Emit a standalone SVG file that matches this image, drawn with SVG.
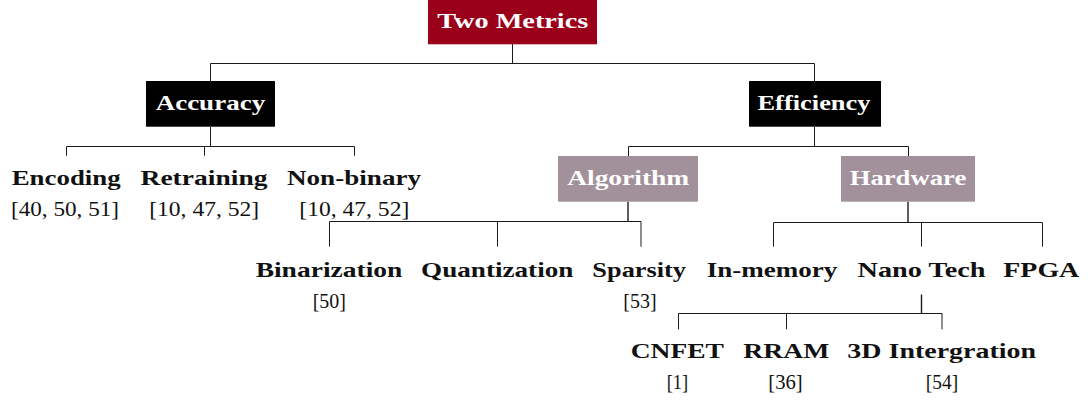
<svg xmlns="http://www.w3.org/2000/svg" width="1088" height="403" viewBox="0 0 1088 403">
  <style>
    .lbl { font-family: "Liberation Serif", "Times New Roman", serif; font-size: 22px; font-weight: bold; text-anchor: middle; fill: #111; }
    .ref { font-family: "Liberation Serif", "Times New Roman", serif; font-size: 22px; text-anchor: middle; fill: #111; }
    .boxlbl { fill: #ffffff; }
    .root { fill: #9A0019; }
    .dark { fill: #000000; }
    .soft { fill: #A2919B; }
    .edge { fill: none; stroke: #1a1a1a; stroke-width: 1; }
    .stem { fill: none; stroke: #1a1a1a; stroke-width: 1.4; }
  </style>

  <rect width="1088" height="403" fill="#ffffff"/>

  <!-- connectors of the tree -->
  <g id="connectors">
    <path class="edge" d="M512.5,44 V63.5 M210.5,81 V63.5 H814.5 V81"/>
    <path class="edge" d="M210.5,127 V146.5 M66.5,155.7 V146.5 H354.5 V155.7 M204.5,146.5 V155.7"/>
    <path class="edge" d="M814.5,127 V146.5 M628.5,156 V146.5 H908.5 V156"/>
    <path class="stem" d="M628,201.7 V221.5"/>
    <path class="edge" d="M329.5,246.7 V221.5 H641 V246.7 M497.5,221.5 V246.7"/>
    <path class="stem" d="M908,201.7 V222.5"/>
    <path class="edge" d="M773.5,246.7 V222.5 H1042.5 V246.7 M921.5,222.5 V246.7"/>
    <path class="stem" d="M921.5,294.5 V313.5"/>
    <path class="edge" d="M678.5,329.3 V313.5 H942 V329.3 M786.5,313.5 V329.3"/>
  </g>

  <!-- root -->
  <g id="two-metrics">
    <rect class="root" x="428" y="0" width="169" height="44.3"/>
    <text class="lbl boxlbl" x="512.8" y="27.7" textLength="151" lengthAdjust="spacingAndGlyphs">Two Metrics</text>
  </g>

  <!-- first level -->
  <g id="accuracy">
    <rect class="dark" x="146" y="81" width="129" height="45.7"/>
    <text class="lbl boxlbl" x="210.4" y="110" textLength="109.5" lengthAdjust="spacingAndGlyphs">Accuracy</text>
  </g>
  <g id="efficiency">
    <rect class="dark" x="749" y="81" width="132" height="45.7"/>
    <text class="lbl boxlbl" x="814" y="110" textLength="113" lengthAdjust="spacingAndGlyphs">Efficiency</text>
  </g>

  <!-- accuracy branch -->
  <g id="encoding">
    <text class="lbl" x="66.2" y="185" textLength="109" lengthAdjust="spacingAndGlyphs">Encoding</text>
    <text class="ref" x="65" y="216" textLength="108" lengthAdjust="spacingAndGlyphs">[40, 50, 51]</text>
  </g>
  <g id="retraining">
    <text class="lbl" x="204" y="185" textLength="127" lengthAdjust="spacingAndGlyphs">Retraining</text>
    <text class="ref" x="204.2" y="216" textLength="110" lengthAdjust="spacingAndGlyphs">[10, 47, 52]</text>
  </g>
  <g id="non-binary">
    <text class="lbl" x="354" y="185" textLength="134" lengthAdjust="spacingAndGlyphs">Non-binary</text>
    <text class="ref" x="354.3" y="216" textLength="110" lengthAdjust="spacingAndGlyphs">[10, 47, 52]</text>
  </g>

  <!-- efficiency branch -->
  <g id="algorithm">
    <rect class="soft" x="558" y="156" width="140" height="45.7"/>
    <text class="lbl boxlbl" x="628.2" y="185" textLength="122" lengthAdjust="spacingAndGlyphs">Algorithm</text>
  </g>
  <g id="hardware">
    <rect class="soft" x="841" y="156" width="134" height="45.7"/>
    <text class="lbl boxlbl" x="908" y="185" textLength="116.7" lengthAdjust="spacingAndGlyphs">Hardware</text>
  </g>

  <g id="binarization">
    <text class="lbl" x="329" y="276.5" textLength="146.7" lengthAdjust="spacingAndGlyphs">Binarization</text>
    <text class="ref" x="329.3" y="307.5" textLength="33.3" lengthAdjust="spacingAndGlyphs">[50]</text>
  </g>
  <g id="quantization">
    <text class="lbl" x="497.2" y="276.5" textLength="152.3" lengthAdjust="spacingAndGlyphs">Quantization</text>
  </g>
  <g id="sparsity">
    <text class="lbl" x="639.2" y="276.5" textLength="93.7" lengthAdjust="spacingAndGlyphs">Sparsity</text>
    <text class="ref" x="640" y="307.5" textLength="33.3" lengthAdjust="spacingAndGlyphs">[53]</text>
  </g>

  <g id="in-memory">
    <text class="lbl" x="772" y="276.5" textLength="130.7" lengthAdjust="spacingAndGlyphs">In-memory</text>
  </g>
  <g id="nano-tech">
    <text class="lbl" x="921.5" y="276.5" textLength="128" lengthAdjust="spacingAndGlyphs">Nano Tech</text>
  </g>
  <g id="fpga">
    <text class="lbl" x="1041.3" y="276.5" textLength="76" lengthAdjust="spacingAndGlyphs">FPGA</text>
  </g>

  <!-- nano tech branch -->
  <g id="cnfet">
    <text class="lbl" x="677.3" y="358.3" textLength="93.3" lengthAdjust="spacingAndGlyphs">CNFET</text>
    <text class="ref" x="677.5" y="389" textLength="21.6" lengthAdjust="spacingAndGlyphs">[1]</text>
  </g>
  <g id="rram">
    <text class="lbl" x="786.3" y="358.3" textLength="86" lengthAdjust="spacingAndGlyphs">RRAM</text>
    <text class="ref" x="785.5" y="389" textLength="34.4" lengthAdjust="spacingAndGlyphs">[36]</text>
  </g>
  <g id="3d-integration">
    <text class="lbl" x="941.7" y="358.3" textLength="188.7" lengthAdjust="spacingAndGlyphs">3D Intergration</text>
    <text class="ref" x="942" y="389" textLength="32.3" lengthAdjust="spacingAndGlyphs">[54]</text>
  </g>
</svg>
